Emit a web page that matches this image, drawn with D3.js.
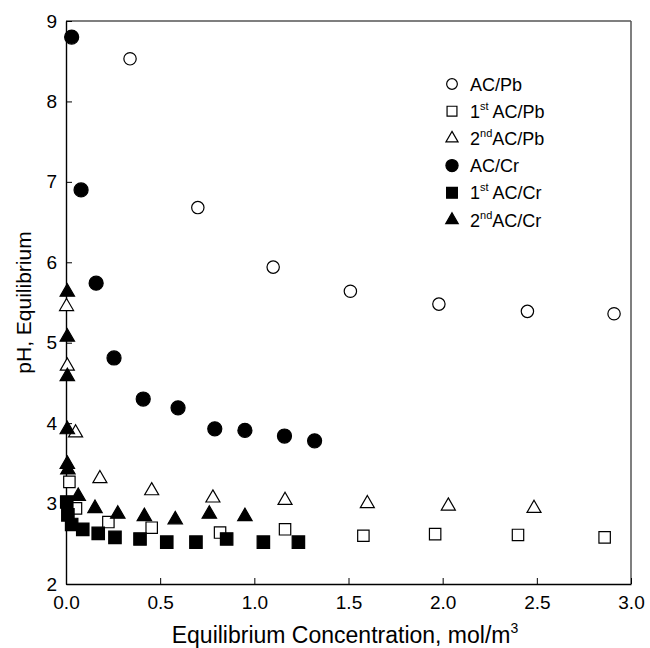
<!DOCTYPE html>
<html><head><meta charset="utf-8">
<script src="https://cdn.jsdelivr.net/npm/d3@7"></script>
<style>body{margin:0;background:#fff}svg{display:block}text{font-family:"Liberation Sans",Arial,sans-serif;fill:#000}</style>
</head><body><svg id="c" width="650" height="648"></svg>
<script>
// Data
const seriesNames = ["AC/Pb", "1st AC/Pb", "2nd AC/Pb", "AC/Cr", "1st AC/Cr", "2nd AC/Cr"];
const acPbX = [0.34, 0.70, 1.10, 1.51, 1.98, 2.45, 2.91];
const acPbY = [8.53, 6.68, 5.94, 5.64, 5.48, 5.39, 5.36];
const pb1X = [0.018, 0.053, 0.225, 0.455, 0.818, 1.163, 1.579, 1.96, 2.40, 2.86];
const pb1Y = [3.27, 2.94, 2.77, 2.70, 2.64, 2.68, 2.60, 2.62, 2.61, 2.58];
const pb2X = [0.003, 0.007, 0.051, 0.18, 0.455, 0.78, 1.163, 1.60, 2.03, 2.485];
const pb2Y = [5.45, 4.71, 3.88, 3.31, 3.16, 3.07, 3.04, 3.00, 2.97, 2.94];
const acCrX = [0.03, 0.08, 0.16, 0.255, 0.41, 0.595, 0.79, 0.95, 1.16, 1.32];
const acCrY = [8.80, 6.90, 5.74, 4.81, 4.30, 4.19, 3.93, 3.91, 3.84, 3.78];
const cr1X = [0.004, 0.01, 0.03, 0.089, 0.171, 0.26, 0.393, 0.535, 0.69, 0.853, 1.048, 1.234];
const cr1Y = [3.02, 2.86, 2.74, 2.68, 2.63, 2.58, 2.56, 2.52, 2.52, 2.56, 2.52, 2.52];
const cr2X = [0.007, 0.007, 0.007, 0.007, 0.007, 0.01, 0.065, 0.154, 0.275, 0.416, 0.58, 0.761, 0.95];
const cr2Y = [5.63, 5.07, 4.58, 3.92, 3.49, 3.42, 3.09, 2.94, 2.87, 2.84, 2.80, 2.87, 2.84];
const xTicks = [0, 0.5, 1.0, 1.5, 2.0, 2.5, 3.0];
const yTicks = [2, 3, 4, 5, 6, 7, 8, 9];

const svg = d3.select("#c");
const L = 66, R = 631, T = 21, B = 584;
const x = d3.scaleLinear().domain([0, 3]).range([L, R]);
const y = d3.scaleLinear().domain([2, 9]).range([B, T]);

// frame top/right
svg.append("line").attr("x1", L).attr("x2", R).attr("y1", T).attr("y2", T).attr("stroke", "#555").attr("stroke-width", 1.5);
svg.append("line").attr("x1", R).attr("x2", R).attr("y1", T).attr("y2", B).attr("stroke", "#555").attr("stroke-width", 1.5);

const xAxis = svg.append("g").attr("transform", `translate(0,${B})`)
  .call(d3.axisBottom(x).tickValues(xTicks).tickFormat(d3.format(".1f")).tickSizeInner(-6).tickSizeOuter(0).tickPadding(12));
const yAxis = svg.append("g").attr("transform", `translate(${L},0)`)
  .call(d3.axisLeft(y).tickValues(yTicks).tickFormat(d3.format("d")).tickSizeInner(-6).tickSizeOuter(0).tickPadding(9));
[xAxis, yAxis].forEach(g => {
  g.select(".domain").attr("stroke", "#000").attr("stroke-width", 1.4);
  g.selectAll(".tick line").attr("stroke", "#000");
  g.selectAll("text").attr("font-size", 19).attr("font-family", '"Liberation Sans",Arial,sans-serif').attr("fill", "#000");
});

// titles
const xt = svg.append("text").attr("x", 345).attr("y", 643).attr("text-anchor", "middle").attr("font-size", 23);
xt.append("tspan").text("Equilibrium Concentration, mol/m");
xt.append("tspan").attr("dy", -10).attr("font-size", 14).text("3");
svg.append("text").attr("transform", `translate(31,${(T + B) / 2}) rotate(-90)`).attr("text-anchor", "middle").attr("font-size", 21).text("pH, Equilibrium");

const series = [
  {xs: acPbX, ys: acPbY, sym: d3.symbolCircle, size: 120, fill: "#fff"},
  {xs: pb1X, ys: pb1Y, sym: d3.symbolSquare, size: 130, fill: "#fff"},
  {xs: pb2X, ys: pb2Y, sym: d3.symbolTriangle, size: 85, fill: "#fff"},
  {xs: acCrX, ys: acCrY, sym: d3.symbolCircle, size: 155, fill: "#000"},
  {xs: cr1X, ys: cr1Y, sym: d3.symbolSquare, size: 155, fill: "#000"},
  {xs: cr2X, ys: cr2Y, sym: d3.symbolTriangle, size: 90, fill: "#000"}
];
series.forEach(s => {
  svg.append("g").selectAll("path").data(s.xs.map((v, i) => [v, s.ys[i]])).join("path")
    .attr("transform", d => `translate(${x(d[0])},${y(d[1])})`)
    .attr("d", d3.symbol().type(s.sym).size(s.size))
    .attr("fill", s.fill).attr("stroke", "#000").attr("stroke-width", 1.2);
});

// legend
const legY0 = 84, legDy = 27.2, legMX = 452, legTX = 470;
const legParts = [["AC/Pb"], ["1", "st", " AC/Pb"], ["2", "nd", "AC/Pb"], ["AC/Cr"], ["1", "st", " AC/Cr"], ["2", "nd", "AC/Cr"]];
series.forEach((s, i) => {
  const yy = legY0 + i * legDy;
  svg.append("path").attr("transform", `translate(${legMX},${yy})`)
    .attr("d", d3.symbol().type(s.sym).size(s.size * 0.75))
    .attr("fill", s.fill).attr("stroke", "#000").attr("stroke-width", 1.2);
  const t = svg.append("text").attr("x", legTX).attr("y", yy + 6.5).attr("font-size", 18);
  const p = legParts[i];
  if (p.length === 1) t.append("tspan").text(p[0]);
  else {
    t.append("tspan").text(p[0]);
    t.append("tspan").attr("dy", -8).attr("font-size", 11).text(p[1]);
    t.append("tspan").attr("dy", 8).text(p[2]);
  }
});
</script></body></html>
